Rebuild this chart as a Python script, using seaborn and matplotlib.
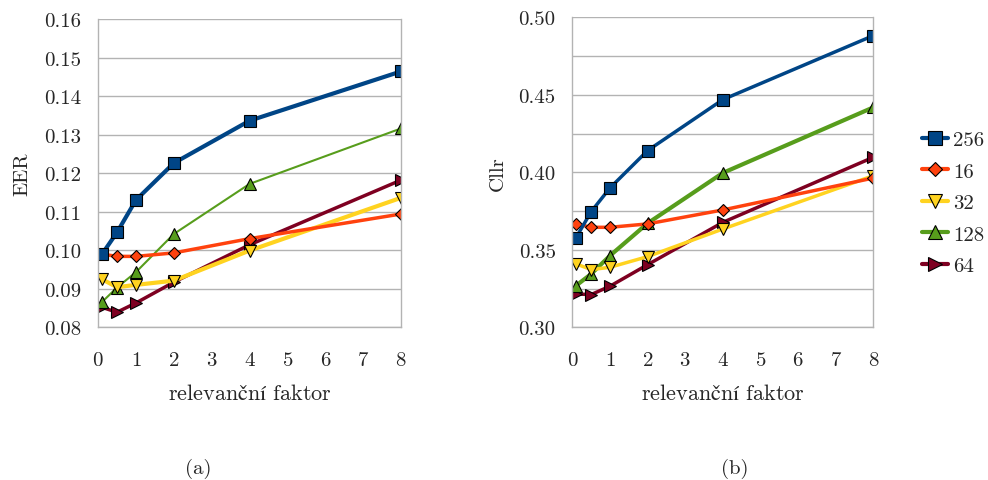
import numpy as np
import pandas as pd
import seaborn as sns
import matplotlib.pyplot as plt
from matplotlib.lines import Line2D

sns.set_style("white")
plt.rcParams['font.family'] = ['cmr10', 'DejaVu Serif']
plt.rcParams['mathtext.fontset'] = 'cm'
plt.rcParams['axes.formatter.use_mathtext'] = True

# relevance factor values
factor = [0.1, 0.5, 1, 2, 4, 8]
series = ['256', '16', '32', '128', '64']

eer = {
    '256': [0.0989, 0.1046, 0.1130, 0.1226, 0.1336, 0.1464],
    '16': [0.0990, 0.0984, 0.0984, 0.0993, 0.1030, 0.1094],
    '32': [0.0925, 0.0904, 0.0910, 0.0921, 0.0999, 0.1136],
    '128': [0.0865, 0.0903, 0.0943, 0.1042, 0.1172, 0.1316],
    '64': [0.0852, 0.0839, 0.0863, 0.0917, 0.1014, 0.1182],
}
cllr = {
    '256': [0.3579, 0.3746, 0.3899, 0.4140, 0.4469, 0.4882],
    '16': [0.3667, 0.3645, 0.3645, 0.3667, 0.3757, 0.3963],
    '32': [0.3409, 0.3372, 0.3387, 0.3456, 0.3634, 0.3978],
    '128': [0.3269, 0.3344, 0.3462, 0.3671, 0.3996, 0.4419],
    '64': [0.3215, 0.3211, 0.3265, 0.3404, 0.3677, 0.4097],
}

COLORS = {'256': '#004586', '16': '#ff420e', '32': '#ffd320', '128': '#579d1c', '64': '#7e0021'}
MARKERS = {'256': 's', '16': 'D', '32': 'v', '128': '^', '64': '>'}
MSIZE = {'256': 9, '16': 6.5, '32': 8.5, '128': 8.5, '64': 8.5}
LW_A = {'256': 3, '16': 2.5, '32': 3, '128': 1.5, '64': 2.5}
LW_B = {'256': 2.5, '16': 2.5, '32': 2.5, '128': 3, '64': 2.5}
DRAW_ORDER = ['64', '128', '32', '16', '256']

FS = 15
XLABEL = r'$\mathrm{relevanční\ faktor}$'

fig = plt.figure(figsize=(9.88, 4.81), dpi=100)
ax1 = fig.add_axes([0.0992, 0.3175, 0.3067, 0.6409])
ax2 = fig.add_axes([0.5793, 0.3175, 0.3047, 0.6445])


def draw(ax, data, lws, ylim, yticks, minor):
    for name in DRAW_ORDER:
        df = pd.DataFrame({'x': factor, 'y': data[name]})
        sns.lineplot(data=df, x='x', y='y', ax=ax, color=COLORS[name], lw=lws[name],
                     marker=MARKERS[name], markersize=MSIZE[name],
                     markeredgecolor='black', markeredgewidth=0.8, legend=False)
    ax.set_xlim(0, 8)
    ax.set_ylim(*ylim)
    ax.set_xticks(range(9))
    ax.set_yticks(yticks)
    ax.set_yticklabels([f"{t:.2f}" for t in yticks])
    if minor is not None:
        ax.set_yticks(minor, minor=True)
    ax.grid(axis='y', which='both', color='#b3b3b3', lw=1)
    ax.set_axisbelow(True)
    for s in ['left', 'bottom', 'right']:
        ax.spines[s].set_color('#b3b3b3')
        ax.spines[s].set_linewidth(1)
    ax.spines['top'].set_visible(False)
    ax.tick_params(axis='both', which='major', length=9, color='#b3b3b3', labelsize=FS, pad=3)
    ax.tick_params(axis='x', which='major', length=8, pad=9)
    ax.tick_params(axis='y', which='minor', length=0)
    ax.set_xlabel(XLABEL, fontsize=FS + 1, labelpad=10)


draw(ax1, eer, LW_A, (0.08, 0.16), np.round(np.arange(0.08, 0.161, 0.01), 2), None)
ax1.set_ylabel('EER', fontsize=FS, labelpad=9)
draw(ax2, cllr, LW_B, (0.30, 0.50), np.round(np.arange(0.30, 0.501, 0.05), 2),
     np.round(np.arange(0.325, 0.5, 0.05), 3))
ax2.set_ylabel('Cllr', fontsize=FS, labelpad=8)

handles = [Line2D([0], [0], color=COLORS[n], lw=3, marker=MARKERS[n], markersize=MSIZE[n] + 1,
                  markeredgecolor='black', markeredgewidth=0.8) for n in series]
fig.legend(handles, series, loc='center left', bbox_to_anchor=(0.933, 0.576),
           frameon=False, fontsize=FS, handlelength=1.25, handletextpad=0.25,
           labelspacing=0.62, borderpad=0, borderaxespad=0)

fig.text(0.201, 0.025, '(a)', ha='center', va='center', fontsize=FS)
fig.text(0.744, 0.025, '(b)', ha='center', va='center', fontsize=FS)

fig.savefig('out.png', dpi=100)
